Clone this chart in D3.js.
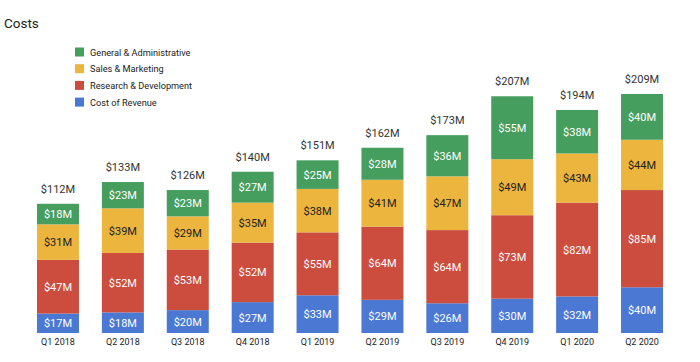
<!DOCTYPE html>
<html>
<head>
<meta charset="utf-8">
<script src="https://cdn.jsdelivr.net/npm/d3@7"></script>
<style>
  html, body { margin: 0; padding: 0; background: #fff; }
  svg { display: block; font-family: Roboto, "Noto Sans", Arial, sans-serif; }
</style>
</head>
<body>
<svg id="chart" width="700" height="362"></svg>
<script>
const quarters = ["Q1 2018","Q2 2018","Q3 2018","Q4 2018","Q1 2019","Q2 2019","Q3 2019","Q4 2019","Q1 2020","Q2 2020"];
const costOfRevenue = [17,18,20,27,33,29,26,30,32,40];
const researchDev   = [47,52,53,52,55,64,64,73,82,85];
const salesMarketing = [31,39,29,35,38,41,47,49,43,44];
const generalAdmin  = [18,23,23,27,25,28,36,55,38,40];
const totals = [112,133,126,140,151,162,173,207,194,209];

const seriesNames = ["Cost of Revenue","Research & Development","Sales & Marketing","General & Administrative"];
const seriesValues = [costOfRevenue, researchDev, salesMarketing, generalAdmin];
const colors = ["#4a78d3","#cc4c3e","#ecb53d","#459d5e"];
const textColors = ["#ffffff","#ffffff","#222222","#ffffff"];

const svg = d3.select("#chart");

const rows = quarters.map((q, i) => {
  const r = {quarter: q};
  seriesNames.forEach((s, j) => r[s] = seriesValues[j][i]);
  return r;
});
const stacked = d3.stack().keys(seriesNames)(rows);

const x = d3.scaleBand().domain(quarters).range([24, 676]).paddingInner(0.353).paddingOuter(0.2);
const y = d3.scaleLinear().domain([0, 209]).range([333, 94]);

// Title
svg.append("text").attr("x", 4).attr("y", 28).attr("font-size", 13.5).attr("fill", "#222").text("Costs");

// Legend (top-down: G&A, S&M, R&D, CoR)
const legendOrder = [3,2,1,0];
legendOrder.forEach((j, k) => {
  const yy = 52 + k * 16.7;
  svg.append("rect").attr("x", 75).attr("y", yy - 4.5).attr("width", 9).attr("height", 9).attr("fill", colors[j]);
  svg.append("text").attr("x", 90).attr("y", yy + 3.5).attr("font-size", 9.2).attr("fill", "#222").text(seriesNames[j]);
});

// Bars
stacked.forEach((layer, j) => {
  const g = svg.append("g");
  g.selectAll("rect").data(layer).join("rect")
    .attr("x", d => x(d.data.quarter))
    .attr("y", d => y(d[1]))
    .attr("width", x.bandwidth())
    .attr("height", d => y(d[0]) - y(d[1]))
    .attr("fill", colors[j]);
  g.selectAll("text").data(layer).join("text")
    .attr("x", d => x(d.data.quarter) + x.bandwidth() / 2)
    .attr("y", d => (y(d[0]) + y(d[1])) / 2 + 4)
    .attr("text-anchor", "middle")
    .attr("font-size", 11)
    .attr("fill", textColors[j])
    .text(d => "$" + (d[1] - d[0]) + "M");
});

// Totals
svg.append("g").selectAll("text").data(quarters).join("text")
  .attr("x", q => x(q) + x.bandwidth() / 2)
  .attr("y", (q, i) => y(d3.sum(seriesValues, s => s[i])) - 11)
  .attr("text-anchor", "middle")
  .attr("font-size", 11)
  .attr("fill", "#333")
  .text((q, i) => "$" + totals[i] + "M");

// X axis labels
const xAxis = d3.axisBottom(x).tickSize(0).tickPadding(6);
const ax = svg.append("g").attr("transform", "translate(0,333)").call(xAxis);
ax.select(".domain").remove();
ax.selectAll("text").attr("font-size", 9).attr("fill", "#222").attr("font-family", "Roboto, sans-serif");
</script>
</body>
</html>
